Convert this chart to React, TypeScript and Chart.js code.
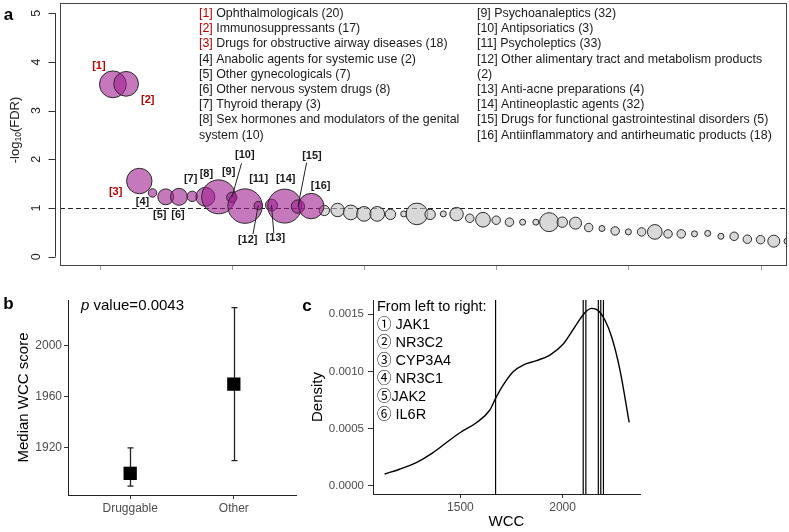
import React, { useEffect, useRef } from "react";
import { Chart, registerables } from "chart.js";

Chart.register(...registerables);

const FONT = "'Liberation Sans', Arial, Helvetica, sans-serif";
Chart.defaults.font.family = FONT;
Chart.defaults.color = "#4d4d4d";

// ---------------- Panel a data ----------------
const catIds = [1, 2, 3, 4, 5, 6, 7, 8, 9, 10, 11, 12, 13, 14, 15, 16];
const catNames = [
  "Ophthalmologicals",
  "Immunosuppressants",
  "Drugs for obstructive airway diseases",
  "Anabolic agents for systemic use",
  "Other gynecologicals",
  "Other nervous system drugs",
  "Thyroid therapy",
  "Sex hormones and modulators of the genital system",
  "Psychoanaleptics",
  "Antipsoriatics",
  "Psycholeptics",
  "Other alimentary tract and metabolism products",
  "Anti-acne preparations",
  "Antineoplastic agents",
  "Drugs for functional gastrointestinal disorders",
  "Antiinflammatory and antirheumatic products",
];
const catCounts = [20, 17, 18, 2, 7, 8, 3, 10, 32, 3, 33, 2, 4, 32, 5, 18];
const catLogFDR = [3.54, 3.55, 1.555, 1.31, 1.23, 1.23, 1.24, 1.23, 1.23, 1.22, 1.04, 1.05, 1.06, 1.04, 1.03, 1.04];
const catRed = [true, true, true, false, false, false, false, false, false, false, false, false, false, false, false, false];
// words on the first legend line for wrapped entries (0 = no wrap)
const catLegendWrap = [0, 0, 0, 0, 0, 0, 0, 8, 0, 0, 0, 7, 0, 0, 0, 0];

const otherIds = [17, 18, 19, 20, 21, 22, 23, 24, 25, 26, 27, 28, 29, 30, 31, 32, 33, 34, 35, 36, 37, 38, 39, 40, 41, 42, 43, 44, 45, 46, 47, 48, 49, 50, 51, 52];
const otherCounts = [3, 5, 6, 6, 6, 3, 1, 13, 3, 1, 5, 2, 6, 2, 2, 1, 1, 10, 3, 4, 2, 1, 2, 1, 2, 6, 2, 2, 1, 1, 1, 2, 2, 2, 4, 1];
const otherLogFDR = [0.95, 0.96, 0.91, 0.88, 0.88, 0.87, 0.88, 0.88, 0.87, 0.88, 0.875, 0.79, 0.76, 0.75, 0.71, 0.71, 0.71, 0.71, 0.71, 0.69, 0.6, 0.58, 0.53, 0.51, 0.51, 0.51, 0.47, 0.47, 0.47, 0.48, 0.42, 0.42, 0.36, 0.35, 0.32, 0.32];

const fdrTicks = [0, 1, 2, 3, 4, 5];
const rankTicks = [0, 10, 20, 30, 40, 50];
const fdrThreshold = 1;

// label layout (pixel offsets from bubble centre)
const labelOffsets = [
  [-14, -18], [21.6, 16], [-23.7, 11], [-10, 9], [-6, 18], [-1, 18], [-1.5, -17], [1, -23],
  [10, -25], [13, -42], [13.6, -27], [-10.6, 34], [4, 33], [1, -27], [14, -51], [9.5, -20],
];
const leaderOffsets: any = { 10: [-3.3, 8], 12: [5.3, -5.5], 13: [-1.7, -5], 15: [-5.3, 7] };

// ---------------- Panel b data ----------------
const groupNames = ["Druggable", "Other"];
const groupMedian = [1900, 1970];
const groupLow = [1890, 1910];
const groupHigh = [1920, 2030];
const wccScoreTicks = [1920, 1960, 2000];
const pValueText = "0.0043";

// ---------------- Panel c data ----------------
const densityWCC = [1129, 1202, 1284, 1366, 1448, 1505, 1578, 1644, 1672, 1709, 1758, 1807, 1872, 1938, 2003, 2069, 2109, 2142, 2175, 2207, 2240, 2281, 2326];
const densityValue = [0.000105, 0.000146, 0.000204, 0.000291, 0.000402, 0.000474, 0.000553, 0.000664, 0.000766, 0.000882, 0.000999, 0.001057, 0.001095, 0.001144, 0.00124, 0.001415, 0.001514, 0.001552, 0.001532, 0.00145, 0.001304, 0.001013, 0.000556];
const geneLabels = ["① JAK1", "② NR3C2", "③ CYP3A4", "④ NR3C1", "⑤JAK2", "⑥ IL6R"];
const geneWCC = [1672, 2101, 2114, 2175, 2187, 2200];
const densityTicks = [0, 0.0005, 0.001, 0.0015];
const wccTicks = [1500, 2000];
const densityMin = -0.00007;
const densityMax = 0.001625;

const bubbleR = (n: number) => 3 * Math.sqrt(n);

function rotText(ctx: any, text: string, x: number, y: number) {
  ctx.save();
  ctx.translate(x, y);
  ctx.rotate(-Math.PI / 2);
  ctx.textAlign = "center";
  ctx.textBaseline = "middle";
  ctx.fillText(text, 0, 0);
  ctx.restore();
}

const panelAPlugin = {
  id: "panelA",
  beforeDatasetsDraw(chart: any) {
    const { ctx, chartArea: a, scales } = chart;
    const yy = Math.round(scales.y.getPixelForValue(fdrThreshold)) + 0.5;
    ctx.save();
    ctx.strokeStyle = "#222";
    ctx.lineWidth = 1;
    ctx.setLineDash([5, 3]);
    ctx.beginPath();
    ctx.moveTo(a.left, yy);
    ctx.lineTo(a.right, yy);
    ctx.stroke();
    ctx.restore();
  },
  afterDraw(chart: any) {
    const { ctx, chartArea: a, scales } = chart;
    const x = scales.x;
    const y = scales.y;
    ctx.save();
    // box
    ctx.strokeStyle = "#444";
    ctx.lineWidth = 1;
    ctx.strokeRect(Math.round(a.left) + 0.5, Math.round(a.top) + 0.5, Math.round(a.right - a.left) - 1, Math.round(a.bottom - a.top) - 1);
    // y axis
    const ax = Math.round(a.left) - 5 + 0.5;
    ctx.strokeStyle = "#333";
    ctx.beginPath();
    ctx.moveTo(ax, y.getPixelForValue(fdrTicks[0]));
    ctx.lineTo(ax, y.getPixelForValue(fdrTicks[fdrTicks.length - 1]));
    fdrTicks.forEach((v) => {
      const py = Math.round(y.getPixelForValue(v)) + 0.5;
      ctx.moveTo(ax - 7, py);
      ctx.lineTo(ax, py);
    });
    ctx.stroke();
    ctx.fillStyle = "#222";
    ctx.font = `12.5px ${FONT}`;
    fdrTicks.forEach((v) => rotText(ctx, String(v), a.left - 23, y.getPixelForValue(v)));
    // x ticks
    ctx.strokeStyle = "#999";
    ctx.beginPath();
    rankTicks.forEach((v) => {
      const px = Math.round(x.getPixelForValue(v)) + 0.5;
      ctx.moveTo(px, a.bottom);
      ctx.lineTo(px, a.bottom + 4);
    });
    ctx.stroke();
    // y title with subscript
    {
      ctx.save();
      ctx.translate(15, a.top + 127);
      ctx.rotate(-Math.PI / 2);
      ctx.fillStyle = "#222";
      ctx.textBaseline = "middle";
      ctx.textAlign = "left";
      const big = `13px ${FONT}`;
      const small = `8.5px ${FONT}`;
      ctx.font = big;
      const w1 = ctx.measureText("-log").width;
      const w3 = ctx.measureText("(FDR)").width;
      ctx.font = small;
      const w2 = ctx.measureText("10").width;
      let cx = -(w1 + w2 + w3) / 2;
      ctx.font = big;
      ctx.fillText("-log", cx, 0);
      cx += w1;
      ctx.font = small;
      ctx.fillText("10", cx, 3.5);
      cx += w2;
      ctx.font = big;
      ctx.fillText("(FDR)", cx, 0);
      ctx.restore();
    }
    // bubble labels
    ctx.font = `bold 11px ${FONT}`;
    ctx.textAlign = "center";
    ctx.textBaseline = "middle";
    catIds.forEach((id, i) => {
      const px = x.getPixelForValue(id);
      const py = y.getPixelForValue(catLogFDR[i]);
      const lx = px + labelOffsets[i][0];
      const ly = py + labelOffsets[i][1];
      ctx.fillStyle = catRed[i] ? "#c00000" : "#1a1a1a";
      ctx.fillText(`[${id}]`, lx, ly);
      const lo = leaderOffsets[id];
      if (lo) {
        ctx.strokeStyle = "#222";
        ctx.lineWidth = 1;
        ctx.beginPath();
        ctx.moveTo(px, py);
        ctx.lineTo(lx + lo[0], ly + lo[1]);
        ctx.stroke();
      }
    });
    // legend (two columns)
    ctx.font = `12.4px ${FONT}`;
    ctx.textAlign = "left";
    ctx.textBaseline = "middle";
    const colX = [199, 477];
    const lineH = 15.2;
    [0, 1].forEach((col) => {
      let row = 0;
      for (let i = col * 8; i < col * 8 + 8; i++) {
        const full = `[${catIds[i]}] ${catNames[i]} (${catCounts[i]})`;
        const words = full.split(" ");
        const lines = catLegendWrap[i] > 0 ? [words.slice(0, catLegendWrap[i]).join(" "), words.slice(catLegendWrap[i]).join(" ")] : [full];
        lines.forEach((ln, li) => {
          const ty = 13.5 + row * lineH;
          if (li === 0 && catRed[i]) {
            const tag = `[${catIds[i]}]`;
            ctx.fillStyle = "#c00000";
            ctx.fillText(tag, colX[col], ty);
            const tw = ctx.measureText(tag).width;
            ctx.fillStyle = "#1a1a1a";
            ctx.fillText(ln.slice(tag.length), colX[col] + tw, ty);
          } else {
            ctx.fillStyle = "#1a1a1a";
            ctx.fillText(ln, colX[col], ty);
          }
          row++;
        });
      }
    });
    // panel letter
    ctx.fillStyle = "#000";
    ctx.font = `bold 17px ${FONT}`;
    ctx.textAlign = "center";
    ctx.fillText("a", 8.5, 15);
    ctx.restore();
  },
};

const panelBPlugin = {
  id: "panelB",
  beforeDatasetsDraw(chart: any) {
    const { ctx, scales } = chart;
    ctx.save();
    ctx.strokeStyle = "#222";
    ctx.lineWidth = 1.3;
    groupNames.forEach((_, i) => {
      const px = Math.round(scales.x.getPixelForValue(i)) + 0.5;
      const lo = scales.y.getPixelForValue(groupLow[i]);
      const hi = scales.y.getPixelForValue(groupHigh[i]);
      ctx.beginPath();
      ctx.moveTo(px, lo);
      ctx.lineTo(px, hi);
      ctx.moveTo(px - 3, lo);
      ctx.lineTo(px + 3, lo);
      ctx.moveTo(px - 3, hi);
      ctx.lineTo(px + 3, hi);
      ctx.stroke();
    });
    ctx.restore();
  },
  afterDraw(chart: any) {
    const { ctx } = chart;
    ctx.save();
    ctx.fillStyle = "#000";
    ctx.textBaseline = "middle";
    ctx.textAlign = "left";
    ctx.font = `italic 15px ${FONT}`;
    ctx.fillText("p", 81, 31);
    const pw = ctx.measureText("p").width;
    ctx.font = `15px ${FONT}`;
    ctx.fillText(` value=${pValueText}`, 81 + pw, 31);
    ctx.font = `bold 17px ${FONT}`;
    ctx.textAlign = "center";
    ctx.fillText("b", 8.5, 29);
    ctx.restore();
  },
};

const panelCPlugin = {
  id: "panelC",
  afterDraw(chart: any) {
    const { ctx } = chart;
    ctx.save();
    ctx.fillStyle = "#000";
    ctx.textBaseline = "middle";
    ctx.textAlign = "left";
    ctx.font = `14.5px ${FONT}, 'Noto Sans CJK SC'`;
    ctx.fillText("From left to right:", 87, 31.7);
    geneLabels.forEach((g, i) => ctx.fillText(g, 87, 50 + i * 18));
    ctx.font = `bold 17px ${FONT}`;
    ctx.textAlign = "center";
    ctx.fillText("c", 17, 31);
    ctx.restore();
  },
};

function configA() {
  return {
    type: "bubble",
    data: {
      datasets: [
        {
          data: catIds.map((id, i) => ({ x: id, y: catLogFDR[i], r: bubbleR(catCounts[i]) })),
          backgroundColor: "rgba(160, 30, 145, 0.6)",
          borderColor: "#2a2a2a",
          borderWidth: 1,
          clip: 0,
        },
        {
          data: otherIds.map((id, i) => ({ x: id, y: otherLogFDR[i], r: bubbleR(otherCounts[i]) })),
          backgroundColor: "rgba(190, 190, 190, 0.6)",
          borderColor: "#2a2a2a",
          borderWidth: 1,
          clip: 0,
        },
      ],
    },
    options: {
      animation: false,
      responsive: false,
      devicePixelRatio: 1,
      layout: { autoPadding: false, padding: { left: 60, top: 3, right: 2, bottom: 9 } },
      plugins: { legend: { display: false }, tooltip: { enabled: false } },
      scales: {
        x: { type: "linear", min: -3, max: 52, display: false },
        y: { type: "linear", min: -0.19, max: 5.21, display: false },
      },
    },
    plugins: [panelAPlugin],
  };
}

const axisCommon = {
  grid: { drawOnChartArea: false, drawTicks: true, tickLength: 4, tickColor: "#333" },
  border: { display: true, color: "#222", width: 1 },
};

function configB() {
  return {
    type: "scatter",
    data: {
      datasets: [
        {
          data: groupNames.map((_, i) => ({ x: i, y: groupMedian[i] })),
          pointStyle: "rect",
          pointRadius: 9.4,
          backgroundColor: "#000",
          borderColor: "#000",
          borderWidth: 0,
        },
      ],
    },
    options: {
      animation: false,
      responsive: false,
      devicePixelRatio: 1,
      layout: { autoPadding: false, padding: { left: 0, top: 25, right: 4, bottom: 0 } },
      plugins: { legend: { display: false }, tooltip: { enabled: false } },
      scales: {
        x: {
          type: "linear",
          min: -0.6,
          max: 1.6,
          ...axisCommon,
          afterBuildTicks: (s: any) => {
            s.ticks = groupNames.map((_, i) => ({ value: i }));
          },
          afterFit: (s: any) => {
            s.height = 37;
          },
          ticks: {
            callback: (v: any) => groupNames[v],
            color: "#4d4d4d",
            font: { size: 12 },
            padding: 2,
            maxRotation: 0,
            autoSkip: false,
          },
        },
        y: {
          type: "linear",
          min: 1883,
          max: 2036,
          ...axisCommon,
          afterBuildTicks: (s: any) => {
            s.ticks = wccScoreTicks.map((v) => ({ value: v }));
          },
          afterFit: (s: any) => {
            s.width = 68;
          },
          ticks: { callback: (v: any) => String(v), color: "#4d4d4d", font: { size: 12 }, padding: 2 },
          title: { display: true, text: "Median WCC score", color: "#000", font: { size: 15 }, padding: { top: 15, bottom: 0 } },
        },
      },
    },
    plugins: [panelBPlugin],
  };
}

function configC() {
  return {
    type: "line",
    data: {
      datasets: [
        {
          data: densityWCC.map((w, i) => ({ x: w, y: densityValue[i] })),
          borderColor: "#000",
          borderWidth: 1.4,
          pointRadius: 0,
          cubicInterpolationMode: "monotone",
          fill: false,
        },
        ...geneWCC.map((w) => ({
          data: [
            { x: w, y: densityMin },
            { x: w, y: densityMax },
          ],
          borderColor: "#000",
          borderWidth: 1.2,
          pointRadius: 0,
          fill: false,
        })),
      ],
    },
    options: {
      animation: false,
      responsive: false,
      devicePixelRatio: 1,
      layout: { autoPadding: false, padding: { left: 0, top: 25, right: 149, bottom: 0 } },
      plugins: { legend: { display: false }, tooltip: { enabled: false } },
      scales: {
        x: {
          type: "linear",
          min: 1072,
          max: 2379,
          ...axisCommon,
          afterBuildTicks: (s: any) => {
            s.ticks = wccTicks.map((v) => ({ value: v }));
          },
          afterFit: (s: any) => {
            s.height = 38;
          },
          ticks: { callback: (v: any) => String(v), color: "#4d4d4d", font: { size: 12 }, padding: 2, maxRotation: 0 },
          title: { display: true, text: "WCC", color: "#000", font: { size: 15 }, padding: { top: 0, bottom: 1 } },
        },
        y: {
          type: "linear",
          min: densityMin,
          max: densityMax,
          ...axisCommon,
          grid: { drawOnChartArea: false, drawTicks: true, tickLength: 5, tickColor: "#333" },
          afterBuildTicks: (s: any) => {
            s.ticks = densityTicks.map((v) => ({ value: v }));
          },
          afterFit: (s: any) => {
            s.width = 83;
          },
          ticks: { callback: (v: any) => Number(v).toFixed(4), color: "#4d4d4d", font: { size: 11.5 }, padding: 4 },
          title: { display: true, text: "Density", color: "#000", font: { size: 15 }, padding: { top: 19, bottom: 0 } },
        },
      },
    },
    plugins: [panelCPlugin],
  };
}

function ChartCanvas(props: any) {
  const { makeConfig, left, top, width, height } = props;
  const ref = useRef<HTMLCanvasElement | null>(null);
  useEffect(() => {
    const chart = new Chart(ref.current as any, makeConfig() as any);
    return () => chart.destroy();
  }, []);
  return (
    <canvas
      ref={ref}
      width={width}
      height={height}
      style={{ position: "absolute", left, top, width, height, display: "block" }}
    />
  );
}

export default function App() {
  return (
    <div style={{ position: "absolute", left: 0, top: 0, width: 789, height: 532, background: "#fff", overflow: "hidden" }}>
      <ChartCanvas makeConfig={configA} left={0} top={0} width={789} height={275} />
      <ChartCanvas makeConfig={configB} left={0} top={275} width={300} height={257} />
      <ChartCanvas makeConfig={configC} left={290} top={275} width={499} height={257} />
    </div>
  );
}
